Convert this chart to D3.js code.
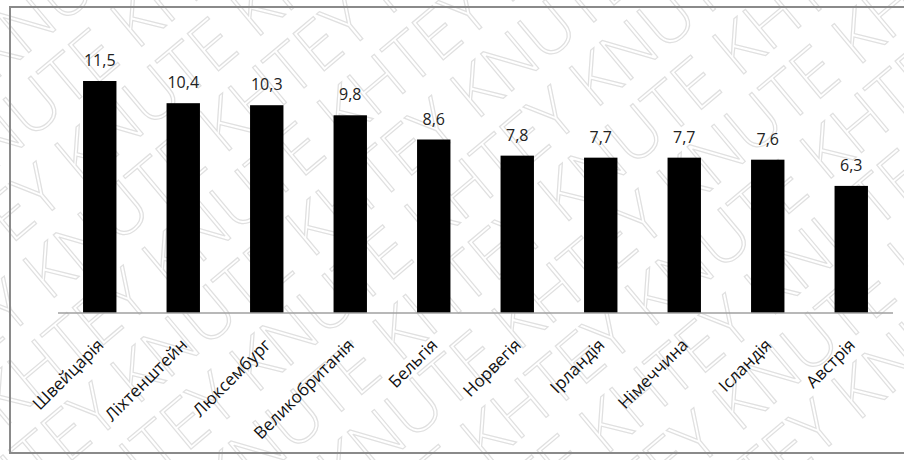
<!doctype html>
<html>
<head>
    <meta charset="UTF-8">
    <title>Chart</title>
    <script src="https://cdn.jsdelivr.net/npm/d3@7"></script>
    <style>
        body { margin: 0; background: #fff; }
        svg { display: block; }
    </style>
</head>
<body>
<svg class="svg1" width="904" height="460"></svg>
<script>
    var countries = ['Швейцарія', 'Ліхтенштейн', 'Люксембург', 'Великобританія', 'Бельгія',
        'Норвегія', 'Ірландія', 'Німеччина', 'Ісландія', 'Австрія'];
    var values = [11.5, 10.4, 10.3, 9.8, 8.6, 7.8, 7.7, 7.7, 7.6, 6.3];
    var marks = ['KNUTE', 'KHTEY'];

    var svg = d3.select(".svg1");
    var font = "'Open Sans', 'Noto Sans', sans-serif";

    // watermark, clipped to the picture
    svg.append("clipPath").attr("id", "clip")
        .append("rect").attr("width", 904).attr("height", 460);
    var wm = svg.append("g").attr("clip-path", "url(#clip)")
        .append("g").attr("class", "watermark")
        .attr("transform", "translate(452,230) rotate(-40)");
    for (var r = -6; r <= 6; r++) {
        var line = "";
        for (var k = 0; k < 6; k++) {
            line += marks[(k + r + 20) % 2] + " ";
        }
        wm.append("text")
            .attr("x", -700 + (r % 2 ? 130 : 0))
            .attr("y", r * 68)
            .attr("font-family", font)
            .attr("font-size", 68)
            .attr("font-weight", 300)
            .attr("fill", "none")
            .attr("stroke", "#e0e0e0")
            .attr("stroke-width", 1.2)
            .text(line);
    }

    // frame
    svg.append("rect")
        .attr("x", 10).attr("y", 7)
        .attr("width", 904).attr("height", 446)
        .attr("fill", "none")
        .attr("stroke", "#8a8a8a")
        .attr("stroke-width", 2);

    var x = d3.scaleBand()
        .domain(countries)
        .range([58, 893])
        .paddingInner(0.6)
        .paddingOuter(0.3);

    var y = d3.scaleLinear()
        .domain([0, 11.5])
        .range([313, 81]);

    svg.append("g").attr("class", "bars")
        .selectAll("rect").data(values)
        .enter().append("rect")
        .attr("x", function (d, i) { return x(countries[i]); })
        .attr("y", function (d) { return y(d); })
        .attr("width", x.bandwidth())
        .attr("height", function (d) { return y(0) - y(d); })
        .attr("fill", "#000");

    // baseline
    svg.append("line")
        .attr("x1", x.range()[0]).attr("x2", x.range()[1])
        .attr("y1", y(0)).attr("y2", y(0))
        .attr("stroke", "#a0a0a0")
        .attr("stroke-width", 1.5);

    svg.append("g").attr("class", "values")
        .selectAll("text").data(values)
        .enter().append("text")
        .attr("x", function (d, i) { return x(countries[i]) + x.bandwidth() / 2; })
        .attr("y", function (d) { return y(d) - 15; })
        .attr("text-anchor", "middle")
        .attr("font-family", font)
        .attr("font-size", 16)
        .attr("fill", "#222")
        .text(function (d) { return String(d).replace('.', ','); });

    svg.append("g").attr("class", "cats")
        .selectAll("text").data(countries)
        .enter().append("text")
        .attr("transform", function (d) {
            return "translate(" + (x(d) + x.bandwidth() / 2 + 5) + "," + 346 + ") rotate(-45)";
        })
        .attr("text-anchor", "end")
        .attr("font-family", font)
        .attr("font-size", 17)
        .attr("fill", "#111")
        .text(function (d) { return d; });
</script>
</body>
</html>
